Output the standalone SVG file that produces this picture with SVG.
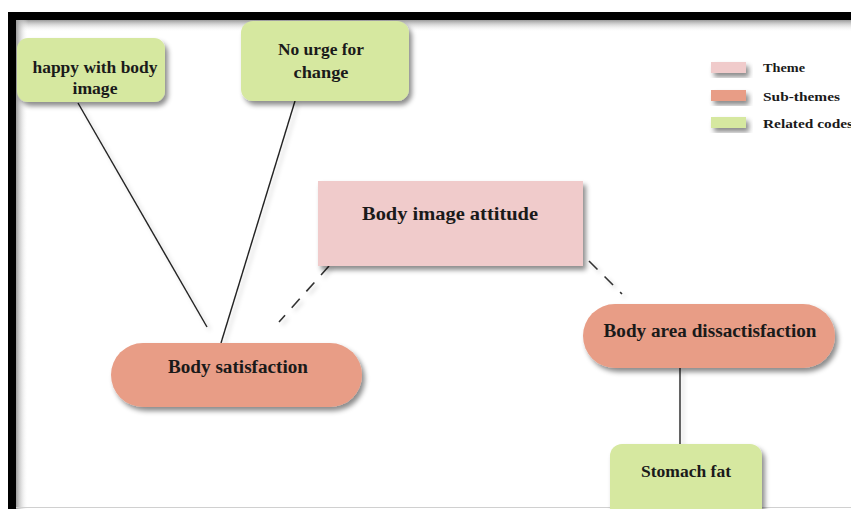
<svg xmlns="http://www.w3.org/2000/svg" width="851" height="509" viewBox="0 0 851 509">
  <defs>
    <filter id="shadow" x="-20%" y="-20%" width="140%" height="160%">
      <feDropShadow dx="3" dy="4" stdDeviation="2.5" flood-color="#000" flood-opacity="0.45"/>
    </filter>
    <filter id="lineShadow" x="-20%" y="-20%" width="140%" height="140%">
      <feDropShadow dx="3" dy="3" stdDeviation="2" flood-color="#000" flood-opacity="0.2"/>
    </filter>
    <linearGradient id="topFade" x1="0" y1="0" x2="0" y2="1">
      <stop offset="0" stop-color="#9a9a9a"/>
      <stop offset="1" stop-color="#fff" stop-opacity="0"/>
    </linearGradient>
    <linearGradient id="leftFade" x1="0" y1="0" x2="1" y2="0">
      <stop offset="0" stop-color="#9a9a9a"/>
      <stop offset="1" stop-color="#fff" stop-opacity="0"/>
    </linearGradient>
  </defs>
  <style>
    .lbl { font-family: "Liberation Serif", "DejaVu Serif", serif; font-weight: bold; fill: #1a1a1a; text-anchor: middle; }
    .leg { font-family: "Liberation Serif", "DejaVu Serif", serif; font-weight: bold; fill: #1a1a1a; font-size: 13px; }
    .theme { fill: #f0cbcb; }
    .sub { fill: #e89d86; }
    .code { fill: #d6e8a0; }
    .solid { stroke: #222; stroke-width: 1.4; fill: none; }
    .dash { stroke: #333; stroke-width: 1.6; fill: none; stroke-dasharray: 12 10; }
  </style>

  <rect width="851" height="509" fill="#fff"/>

  <!-- frame with inner shading -->
  <rect x="16" y="20" width="835" height="12" fill="url(#topFade)"/>
  <rect x="16" y="20" width="12" height="489" fill="url(#leftFade)"/>
  <rect x="8" y="12" width="843" height="8" fill="#000"/>
  <rect x="8" y="12" width="8" height="497" fill="#000"/>
  <line x1="16" y1="507.5" x2="851" y2="507.5" stroke="#d0d0d0" stroke-width="1"/>

  <!-- connectors -->
  <g id="connectors" filter="url(#lineShadow)">
    <line class="solid" x1="78" y1="103" x2="207" y2="327"/>
    <line class="solid" x1="295" y1="101" x2="221" y2="343"/>
    <line class="dash" x1="329" y1="266" x2="279" y2="322"/>
    <line class="dash" x1="589" y1="261" x2="622" y2="294"/>
    <line class="solid" x1="680" y1="368" x2="680" y2="444"/>
  </g>

  <g id="node-happy">
    <rect class="code" x="17" y="38" width="148" height="64" rx="11" filter="url(#shadow)"/>
    <text class="lbl" x="95" y="73" font-size="16" textLength="125" lengthAdjust="spacingAndGlyphs">happy with body</text>
    <text class="lbl" x="95" y="94" font-size="16" textLength="45" lengthAdjust="spacingAndGlyphs">image</text>
  </g>

  <g id="node-no-urge">
    <rect class="code" x="241" y="21" width="168" height="80" rx="12" filter="url(#shadow)"/>
    <text class="lbl" x="321" y="55" font-size="16" textLength="86" lengthAdjust="spacingAndGlyphs">No urge for</text>
    <text class="lbl" x="321" y="78" font-size="16" textLength="55" lengthAdjust="spacingAndGlyphs">change</text>
  </g>

  <g id="node-theme">
    <rect class="theme" x="318" y="181" width="265" height="85" filter="url(#shadow)"/>
    <text class="lbl" x="450" y="220" font-size="19" textLength="176" lengthAdjust="spacingAndGlyphs">Body image attitude</text>
  </g>

  <g id="node-body-satisfaction">
    <rect class="sub" x="111" y="343" width="251" height="64" rx="32" filter="url(#shadow)"/>
    <text class="lbl" x="238" y="373" font-size="18" textLength="140" lengthAdjust="spacingAndGlyphs">Body satisfaction</text>
  </g>

  <g id="node-body-area">
    <rect class="sub" x="583" y="304" width="252" height="64" rx="32" filter="url(#shadow)"/>
    <text class="lbl" x="710" y="337" font-size="18" textLength="213" lengthAdjust="spacingAndGlyphs">Body area dissactisfaction</text>
  </g>

  <g id="node-stomach">
    <rect class="code" x="610" y="444" width="152" height="80" rx="12" filter="url(#shadow)"/>
    <text class="lbl" x="686" y="477" font-size="16" textLength="90" lengthAdjust="spacingAndGlyphs">Stomach fat</text>
  </g>

  <g id="legend">
    <rect class="theme" x="711" y="62" width="35" height="11" filter="url(#shadow)"/>
    <text class="leg" x="763" y="72" textLength="42" lengthAdjust="spacingAndGlyphs">Theme</text>
    <rect class="sub" x="711" y="90" width="35" height="11" filter="url(#shadow)"/>
    <text class="leg" x="763" y="101" textLength="77" lengthAdjust="spacingAndGlyphs">Sub-themes</text>
    <rect class="code" x="711" y="117" width="35" height="11" filter="url(#shadow)"/>
    <text class="leg" x="763" y="128" textLength="90" lengthAdjust="spacingAndGlyphs">Related codes</text>
  </g>
</svg>
